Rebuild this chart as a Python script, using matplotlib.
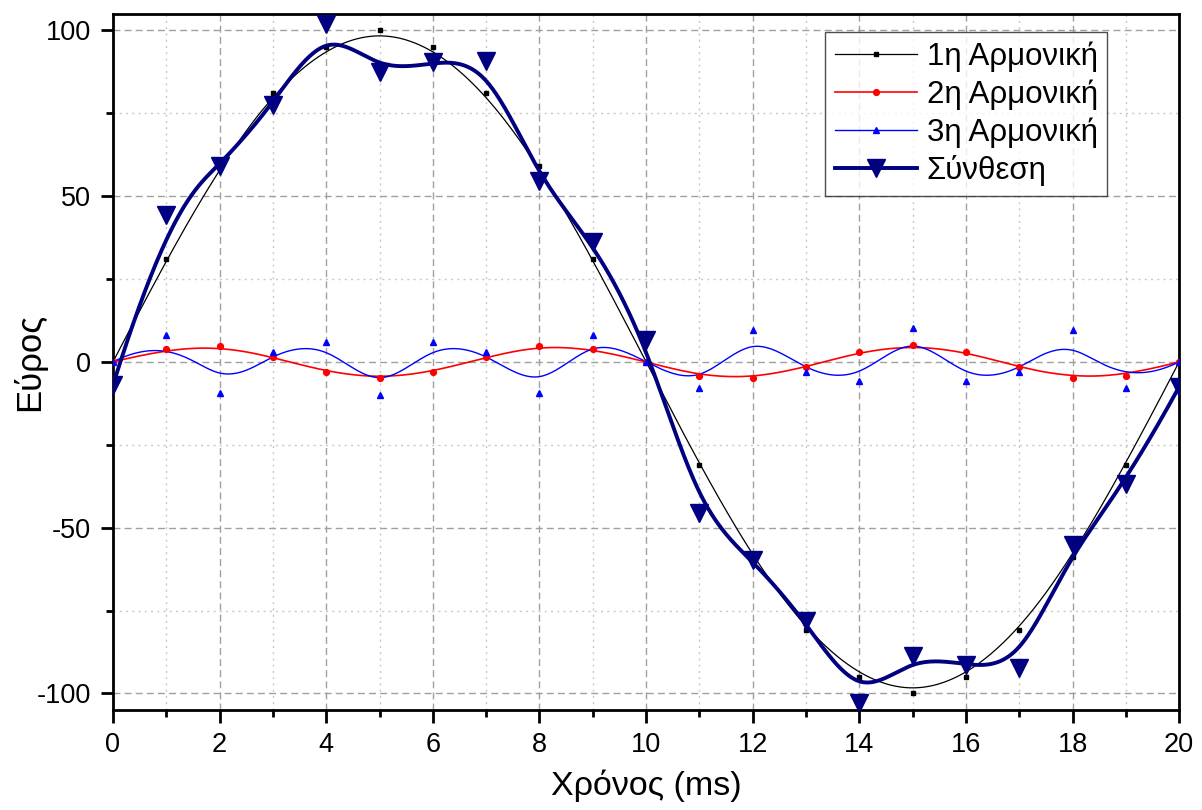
import numpy as np
import matplotlib
matplotlib.use("Agg")
import matplotlib.pyplot as plt
from matplotlib.lines import Line2D
from matplotlib.ticker import MultipleLocator

plt.rcParams['font.family'] = ['Liberation Sans', 'DejaVu Sans']
plt.rcParams['axes.unicode_minus'] = False

# ---- data ----
t = list(range(0, 21))
h1 = [0, 31, 59, 81, 95, 100, 95, 81, 59, 31, 0,
      -31, -59, -81, -95, -100, -95, -81, -59, -31, 0]
h2 = [0, 3.9, 4.9, 1.4, -3.0, -5.0, -3.0, 1.4, 4.9, 3.9, 0,
      -4.2, -4.9, -1.6, 3.0, 5.0, 3.0, -1.6, -4.9, -4.2, 0]
h3 = [0, 8.2, -9.5, 3.1, 5.9, -10.1, 5.9, 3.1, -9.5, 8.2, 0,
      -8.0, 9.7, -3.2, -5.9, 10.1, -5.9, -3.2, 9.7, -8.0, 0]
synth = [-7.0, 44.4, 59.0, 77.6, 101.8, 87.4, 90.4, 90.9, 54.5, 36.3, 6.5,
         -45.6, -59.7, -78.3, -102.8, -88.6, -91.5, -92.2, -55.3, -36.9, -7.5]

labels = ['1η Αρμονική', '2η Αρμονική', '3η Αρμονική', 'Σύνθεση']
xlabel = 'Χρόνος (ms)'
ylabel = 'Εύρος'
xticks = [0, 2, 4, 6, 8, 10, 12, 14, 16, 18, 20]
yticks = [-100, -50, 0, 50, 100]


def bspline(xs, ys, k=3, num=800):
    """Clamped uniform B-spline using the data points as control points."""
    P = np.column_stack([np.asarray(xs, float), np.asarray(ys, float)])
    n = len(P)
    knots = np.concatenate([np.zeros(k + 1), np.arange(1, n - k),
                            np.full(k + 1, n - k)]).astype(float)
    u = np.linspace(0, n - k, num)
    m = len(knots) - 1
    N = np.zeros((num, m))
    for i in range(m):
        N[:, i] = ((u >= knots[i]) & (u < knots[i + 1])).astype(float)
    last = max(i for i in range(m) if knots[i] < knots[i + 1])
    N[-1, :] = 0
    N[-1, last] = 1.0
    for d in range(1, k + 1):
        Nn = np.zeros((num, m - d))
        for i in range(m - d):
            a = np.zeros(num)
            b = np.zeros(num)
            den1 = knots[i + d] - knots[i]
            den2 = knots[i + d + 1] - knots[i + 1]
            if den1 > 0:
                a = (u - knots[i]) / den1 * N[:, i]
            if den2 > 0:
                b = (knots[i + d + 1] - u) / den2 * N[:, i + 1]
            Nn[:, i] = a + b
        N = Nn
    C = N @ P
    return C[:, 0], C[:, 1]


fig = plt.figure(figsize=(12.02, 8.10), dpi=100)
ax = fig.add_axes([0.094, 0.1235, 0.887, 0.8595])

styles = [
    dict(color='black', lw=0.9, marker='s', ms=3.5),
    dict(color='#ff0000', lw=1.2, marker='o', ms=4.2),
    dict(color='#0000ff', lw=1.0, marker='^', ms=4.5),
    dict(color='#000080', lw=2.8, marker='v', ms=12.5),
]
series = [h1, h2, h3, synth]

for ys, st, z in zip(series, styles, [3, 3, 3, 4]):
    sx, sy = bspline(t, ys)
    ax.plot(sx, sy, color=st['color'], lw=st['lw'], zorder=z)
    ax.plot(t, ys, linestyle='none', marker=st['marker'], ms=st['ms'],
            color=st['color'], mec=st['color'], zorder=z + 0.5)

ax.set_xlim(0, 20)
ax.set_ylim(-105, 105)
ax.set_xticks(xticks)
ax.set_yticks(yticks)
ax.xaxis.set_minor_locator(MultipleLocator(1))
ax.yaxis.set_minor_locator(MultipleLocator(25))

ax.grid(which='major', color='#a0a0a0', linestyle=(0, (5, 3)), lw=1.0, zorder=0)
ax.grid(which='minor', color='#c8c8c8', linestyle=(0, (1.5, 3)), lw=1.0, zorder=0)
ax.set_axisbelow(True)

for sp in ax.spines.values():
    sp.set_linewidth(2.0)
    sp.set_color('black')

ax.tick_params(which='major', direction='out', length=9, width=2.0,
               labelsize=19.5, pad=7, top=False, right=False)
ax.tick_params(which='minor', direction='out', length=5, width=2.0,
               top=False, right=False)

ax.set_xlabel(xlabel, fontsize=24.5)
ax.set_ylabel(ylabel, fontsize=25)
ax.xaxis.set_label_coords(0.5, -0.086)
ax.yaxis.set_label_coords(-0.063, 0.5)

handles = [Line2D([], [], color=st['color'], lw=st['lw'], marker=st['marker'],
                  ms=st['ms'], mec=st['color']) for st in styles]
leg = ax.legend(handles, labels, loc='upper right',
                bbox_to_anchor=(0.9325, 0.974), borderaxespad=0,
                fontsize=22.5, handlelength=2.65, handletextpad=0.3,
                labelspacing=0.24, borderpad=0.3, frameon=True,
                fancybox=False, edgecolor='#222222')
leg.get_frame().set_linewidth(1.0)

fig.savefig('out.png', dpi=100)
